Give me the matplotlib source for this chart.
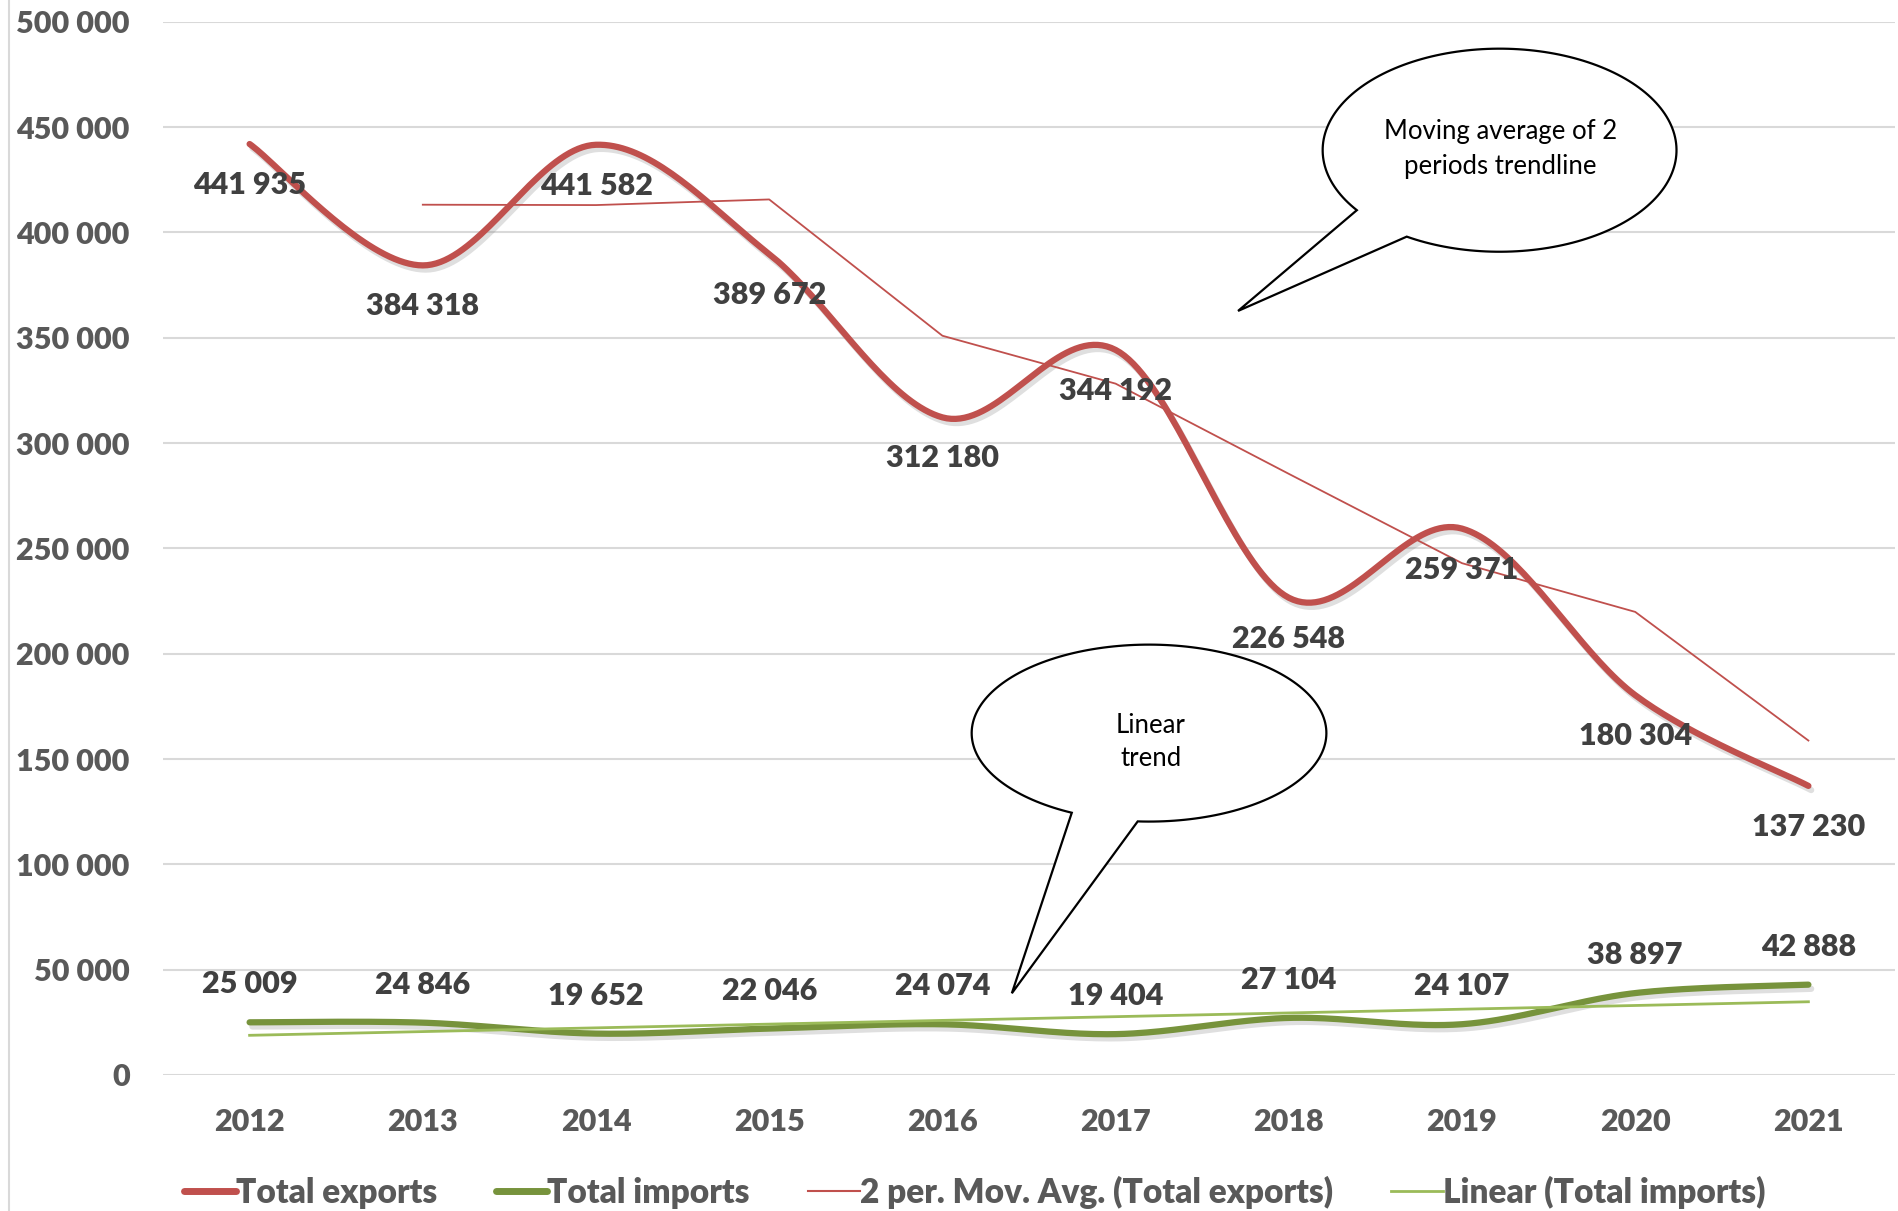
import numpy as np
import matplotlib
matplotlib.use("Agg")
import matplotlib.pyplot as plt
import matplotlib.patheffects as pe
from matplotlib.patches import Polygon
from matplotlib.lines import Line2D

plt.rcParams['font.family'] = ['Lato', 'DejaVu Sans']

######## DATA

years = ['2012', '2013', '2014', '2015', '2016', '2017', '2018', '2019', '2020', '2021']
exports = [441935, 384318, 441582, 389672, 312180, 344192, 226548, 259371, 180304, 137230]
imports = [25009, 24846, 19652, 22046, 24074, 19404, 27104, 24107, 38897, 42888]
# Excel trendlines
mov_avg = [413127, 412950, 415627, 350926, 328186, 285370, 242960, 219838, 158767]  # 2013..2021
linear_ends = [18838, 34768]  # 2012, 2021

yticks = [0, 50000, 100000, 150000, 200000, 250000, 300000, 350000, 400000, 450000, 500000]

RED = '#C0504D'
GREEN = '#77933C'
LGREEN = '#9BBB59'
GRID = '#D9D9D9'
TXT = '#595959'
LBL = '#404040'
WEIGHT = 'heavy'


def smooth(y, n=40):
	# excel-like smoothed line (catmull-rom bezier)
	p = np.column_stack([np.arange(len(y)), np.asarray(y, float)])
	pp = np.vstack([p[0], p, p[-1]])
	out = []
	for i in range(len(p) - 1):
		p0, p1, p2, p3 = pp[i], pp[i+1], pp[i+2], pp[i+3]
		c1 = p1 + (p2 - p0) / 6
		c2 = p2 - (p3 - p1) / 6
		t = np.linspace(0, 1, n)[:, None]
		seg = (1-t)**3*p1 + 3*(1-t)**2*t*c1 + 3*(1-t)*t**2*c2 + t**3*p2
		out.append(seg if i == 0 else seg[1:])
	out = np.vstack(out)
	return out[:, 0], out[:, 1]


def fmt(v):
	return '{:,}'.format(int(v)).replace(',', ' ')


def bubble(ax, cx, cy, w, h, b1, b2, tip):
	a, b = w / 2, h / 2
	t1 = np.arctan2((b1[1]-cy)/b, (b1[0]-cx)/a)
	t2 = np.arctan2((b2[1]-cy)/b, (b2[0]-cx)/a)
	if t2 < t1:
		t1, t2 = t2, t1
	th = np.linspace(t2, t1 + 2*np.pi, 200)
	pts = np.column_stack([cx + a*np.cos(th), cy + b*np.sin(th)])
	pts = np.vstack([pts, tip])
	ax.add_patch(Polygon(pts, closed=True, facecolor='white', edgecolor='black',
		linewidth=1.6, zorder=6, clip_on=False))


######## PLOT

fig = plt.figure(figsize=(18.98, 12.11), dpi=100)
ax = fig.add_axes([163/1898, 1 - 1075/1211, (1895-163)/1898, (1075-21.7)/1211])

x = np.arange(len(years))
shadow = [pe.SimpleLineShadow(offset=(2, -3), alpha=0.25, shadow_color='gray'), pe.Normal()]

sx, sy = smooth(exports)
ax.plot(sx, sy, color=RED, lw=4.5, solid_capstyle='round', path_effects=shadow, zorder=3)
sx, sy = smooth(imports)
ax.plot(sx, sy, color=GREEN, lw=4.5, solid_capstyle='round', path_effects=shadow, zorder=3)
ax.plot(x[1:], mov_avg, color=RED, lw=1.3, zorder=4)
ax.plot([x[0], x[-1]], linear_ends, color=LGREEN, lw=2, zorder=4)

for i in range(len(years)):
	ax.annotate(fmt(exports[i]), (x[i], exports[i]), xytext=(0, -41), textcoords='offset pixels',
		ha='center', va='center', fontsize=22, fontweight=WEIGHT, color=LBL, zorder=5)
	ax.annotate(fmt(imports[i]), (x[i], imports[i]), xytext=(0, 38), textcoords='offset pixels',
		ha='center', va='center', fontsize=22, fontweight=WEIGHT, color=LBL, zorder=5)

ax.set_xlim(-0.5, len(years) - 0.5)
ax.set_ylim(0, 500000)
ax.set_xticks(x)
ax.set_xticklabels(years)
ax.set_yticks(yticks)
ax.set_yticklabels([fmt(v) for v in yticks])
ax.tick_params(length=0, labelsize=22, labelcolor=TXT)
ax.tick_params(axis='x', pad=24)
ax.tick_params(axis='y', pad=24)
for lab in ax.get_xticklabels() + ax.get_yticklabels():
	lab.set_fontweight(WEIGHT)
ax.grid(axis='y', color=GRID, lw=1.5)
ax.set_axisbelow(True)
for s in ax.spines.values():
	s.set_visible(False)

# callouts
bubble(ax, 7.217, 439000, 2.043, 96400, (6.395, 410600), (6.680, 397900), (5.707, 362700))
ax.text(7.22, 447800, 'Moving average of 2', ha='center', va='center', fontsize=18.5, zorder=7)
ax.text(7.22, 431100, 'periods trendline', ha='center', va='center', fontsize=18.5, zorder=7)

bubble(ax, 5.193, 162300, 2.048, 84000, (4.753, 125000), (5.128, 120600), (4.401, 38800))
ax.text(5.203, 166100, 'Linear', ha='center', va='center', fontsize=18.5, zorder=7)
ax.text(5.203, 150300, 'trend', ha='center', va='center', fontsize=18.5, zorder=7)

# chart border on the left
fig.add_artist(Line2D([9/1898, 9/1898], [0, 1], color=GRID, lw=1.5))

handles = [
	Line2D([], [], color=RED, lw=5, solid_capstyle='round'),
	Line2D([], [], color=GREEN, lw=5, solid_capstyle='round'),
	Line2D([], [], color=RED, lw=1.5),
	Line2D([], [], color=LGREEN, lw=2),
]
labels = ['Total exports', 'Total imports', '2 per. Mov. Avg. (Total exports)', 'Linear (Total imports)']
leg = fig.legend(handles, labels, loc='center', bbox_to_anchor=(975/1898, 1 - 1192/1211), ncol=4,
	frameon=False, handlelength=1.55, handletextpad=0.0, columnspacing=1.75,
	prop={'size': 24, 'weight': WEIGHT})
for t in leg.get_texts():
	t.set_color(TXT)

fig.savefig('out.png', dpi=100)
